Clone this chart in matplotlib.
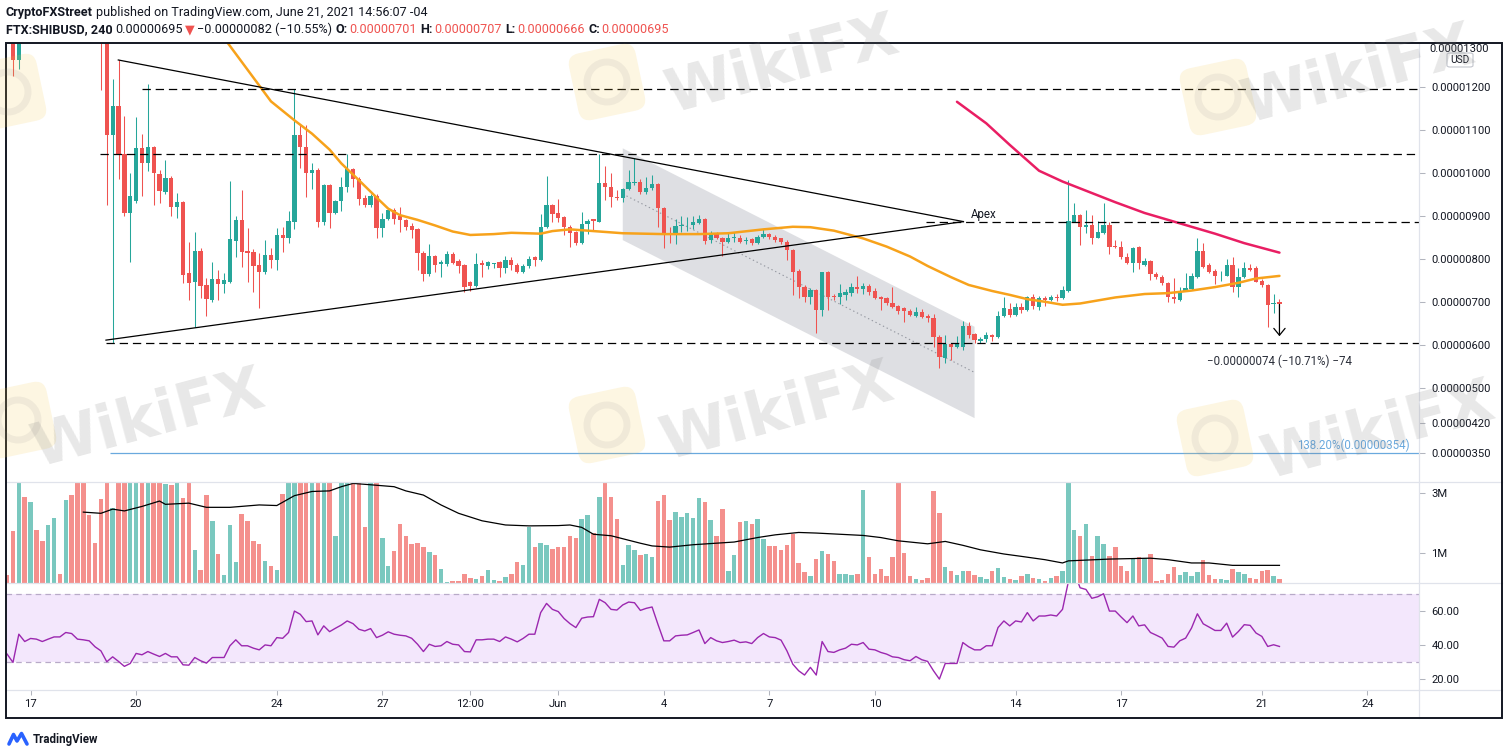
import matplotlib
matplotlib.use('Agg')
import matplotlib.pyplot as plt
import matplotlib.dates as mdates
import matplotlib.transforms as mtrans
from matplotlib.patches import Rectangle, Polygon, FancyBboxPatch, Circle
from matplotlib.lines import Line2D
import numpy as np
import pandas as pd

plt.rcParams['font.family'] = ['Roboto', 'DejaVu Sans']
plt.rcParams['lines.scale_dashes'] = False

# ---------------- DATA (prices in units of 1e-8 USD) ----------------
times = pd.date_range('2021-05-16 08:00', periods=218, freq='4h')

ohlc = [
    (1345,1365,1318,1330),(1330,1345,1225,1262),(1262,1340,1242,1320),(1320,1350,1306,1310),
    (1310,1380,1308,1370),(1370,1385,1340,1350),(1350,1360,1320,1330),(1330,1390,1325,1380),
    (1380,1430,1370,1420),(1420,1430,1405,1412),(1412,1470,1408,1460),(1460,1470,1400,1410),
    (1410,1415,1340,1350),(1350,1365,1320,1340),(1340,1350,1315,1325),(1325,1335,1306,1315),
    (1315,1320,1192,1305),(1305,1310,925,1088),(1088,1219,605,1155),(1155,1262,985,1041),
    (1045,1132,900,906),(906,1000,794,946),(935,1130,930,1057),(1057,1090,946,1024),
    (1024,1206,1005,1059),(1059,1062,925,999),(997,1007,929,959),(956,1030,950,989),
    (989,992,900,922),(922,953,895,932),(932,935,744,763),(767,840,705,745),
    (748,863,643,819),(819,826,710,738),(740,756,668,707),(705,794,700,754),
    (754,775,705,743),(743,767,721,751),(748,981,745,847),(843,900,806,891),
    (891,960,782,817),(819,872,748,815),(817,823,724,784),(786,814,686,771),
    (771,844,765,810),(810,825,779,798),(798,871,775,856),(856,875,817,848),
    (848,912,838,889),(887,1195,870,1088),(1088,1110,1011,1059),(1059,1110,943,999),
    (999,1022,962,1007),(1007,1011,874,885),(885,975,880,972),(972,975,871,908),
    (908,938,905,935),(935,990,912,968),(967,1045,956,1008),(1008,1012,967,985),
    (987,990,925,940),(941,949,921,925),(925,950,920,946),(946,950,848,871),
    (871,906,851,892),(892,918,890,915),(915,918,881,892),(900,920,864,891),
    (891,893,868,874),(877,883,848,868),(869,872,775,813),(815,818,750,765),
    (765,835,760,807),(807,810,771,786),(789,798,758,793),(789,819,784,812),
    (812,817,789,790),(795,800,767,784),(786,788,724,736),(748,750,726,738),
    (738,813,735,789),(790,798,758,786),(784,796,778,793),(789,792,780,791),
    (793,795,758,780),(780,808,768,797),(797,804,775,786),(786,790,768,771),
    (771,788,768,784),(783,808,780,800),(804,807,783,798),(797,905,795,874),
    (874,993,872,925),(925,928,885,905),(906,939,885,895),(897,900,856,874),
    (874,878,829,861),(864,866,833,838),(838,910,836,881),(881,892,858,889),
    (892,894,868,888),(887,1045,885,977),(977,1016,937,967),(967,999,922,943),
    (943,960,938,941),(941,965,932,962),(962,1007,960,980),(977,1034,972,980),
    (980,985,950,956),(956,990,950,964),(964,994,960,974),(974,976,874,918),
    (918,920,825,860),(861,874,837,858),(858,893,836,877),(877,900,863,879),
    (878,897,865,880),(879,900,870,885),(883,903,881,892),(892,895,835,843),
    (844,865,837,861),(861,864,846,848),(850,852,807,840),(840,864,838,850),
    (849,864,840,851),(850,857,837,840),(842,852,836,845),(846,850,833,838),
    (838,857,836,852),(851,869,849,858),(858,861,846,851),(852,856,840,844),
    (848,850,836,840),(840,845,798,821),(821,824,717,771),(773,776,709,735),
    (735,740,701,713),(713,732,696,728),(728,730,628,681),(681,771,668,769),
    (769,772,682,713),(715,720,705,711),(711,742,695,721),(717,730,705,724),
    (722,745,715,736),(735,761,721,730),(730,745,720,738),(738,743,717,724),
    (727,734,707,709),(713,715,682,707),(709,711,693,699),(699,735,686,690),
    (691,693,673,680),(686,688,655,680),(680,684,667,670),(668,690,666,678),
    (678,685,663,665),(668,672,655,663),(663,672,597,619),(620,624,547,572),
    (570,624,558,603),(603,606,567,597),(597,622,594,603),(597,657,590,645),
    (645,653,617,624),(627,629,606,613),(609,620,605,614),(614,630,607,624),
    (624,626,611,619),(620,680,617,668),(668,713,666,686),(684,697,666,670),
    (670,697,667,688),(688,697,674,682),(682,715,680,713),(711,720,684,691),
    (689,714,683,709),(709,715,692,705),(705,716,703,713),(713,720,702,709),
    (709,738,707,728),(727,984,724,889),(887,929,885,902),(902,905,833,874),
    (874,915,860,879),(879,902,835,850),(850,889,848,864),(861,929,858,879),
    (879,885,812,829),(830,844,826,828),(829,842,800,805),(805,815,788,792),
    (792,829,771,825),(827,830,776,792),(786,803,784,795),(795,798,752,766),
    (766,770,753,758),(758,762,740,744),(744,746,701,713),(713,756,699,707),
    (705,736,703,727),(727,767,725,732),(730,767,728,761),(759,848,757,819),
    (819,838,780,782),(786,792,768,771),(773,777,742,761),(762,773,750,764),
    (761,800,760,786),(786,806,724,736),(735,779,711,758),(758,793,755,779),
    (779,789,772,775),(779,784,746,748),(750,754,736,740),(740,742,643,694),
    (696,719,676,699),(701,707,688,695),
]
opens = [r[0] for r in ohlc]
highs = [r[1] for r in ohlc]
lows = [r[2] for r in ohlc]
closes = [r[3] for r in ohlc]

volumes_m = [
    0.28,1.74,3.5,2.89,2.72,1.78,1.41,1.94,2.19,0.31,
    2.76,2.94,3.6,3.6,2.28,1.34,2.81,4.5,2.5,4.0,
    3.8,3.9,3.7,3.6,3.8,3.6,3.5,3.30,3.27,3.6,
    2.83,3.6,1.11,0.44,2.94,2.08,0.98,0.28,1.94,0.70,
    2.30,2.06,1.41,1.30,0.74,0.56,0.44,2.98,3.6,4.0,
    3.7,3.6,3.5,3.8,3.6,3.5,1.56,3.5,3.6,3.5,
    3.5,1.86,3.5,3.6,1.52,0.56,1.06,1.98,1.58,1.30,
    1.33,1.19,1.02,0.94,0.48,0.03,0.06,0.06,0.30,0.17,
    0.14,0.22,0.44,0.11,0.08,0.19,0.30,0.70,0.61,1.86,
    1.19,1.33,1.28,1.14,1.19,1.22,1.56,1.50,2.14,2.28,
    1.67,2.89,3.6,2.89,2.14,0.61,1.28,1.11,0.94,0.98,
    0.86,2.74,2.94,2.11,2.37,2.20,2.33,2.19,2.83,2.72,
    2.11,1.58,2.48,0.41,0.94,2.03,2.08,1.98,2.14,1.48,
    1.24,1.24,1.11,1.28,1.63,0.67,0.37,0.22,0.81,1.06,
    0.98,0.74,0.31,0.31,0.26,0.31,3.11,0.86,0.31,0.47,
    0.24,0.86,3.6,1.00,0.24,0.14,0.11,0.17,3.06,2.33,
    0.52,0.41,0.26,0.39,0.41,0.26,0.19,0.14,0.39,0.50,
    0.19,0.13,0.11,0.22,0.31,0.17,0.14,0.08,0.17,0.22,
    0.39,3.6,1.78,1.56,1.97,0.89,1.56,1.30,0.89,1.19,
    0.56,0.39,0.83,0.86,0.83,0.97,0.08,0.10,0.29,0.53,
    0.27,0.38,0.23,0.38,0.76,0.27,0.15,0.15,0.11,0.48,
    0.36,0.31,0.17,0.14,0.39,0.44,0.24,0.14,
]

rsi = [
    34.9,30.0,46.6,42.3,44.1,43.7,42.3,43.7,45.0,45.0,
    47.6,47.0,43.7,43.3,42.7,39.2,36.8,30.4,33.3,30.6,
    27.7,29.4,35.3,34.5,36.4,34.9,33.5,35.3,33.3,33.3,
    28.6,28.4,32.9,31.0,29.6,32.9,32.9,32.9,39.8,43.3,
    39.8,39.8,38.4,37.4,40.3,39.8,44.6,44.2,47.6,60.2,
    58.3,54.0,54.4,46.2,51.5,48.1,50.1,52.0,54.4,52.8,
    49.5,48.5,49.9,44.6,46.0,48.0,46.6,46.0,45.6,44.2,
    40.7,36.4,40.7,39.4,39.8,42.3,40.7,40.3,36.4,36.2,
    43.3,43.3,43.7,43.7,42.3,45.0,43.7,42.1,44.1,46.6,
    46.6,59.3,64.7,61.2,59.9,55.8,52.8,50.5,56.0,56.7,
    56.9,67.1,65.1,61.2,60.8,63.8,65.5,65.1,60.6,61.8,
    62.6,52.4,42.7,42.7,45.6,46.0,46.2,47.6,49.1,41.1,
    44.6,42.7,41.7,42.3,43.1,41.7,42.1,41.1,44.6,47.0,
    45.0,44.6,43.1,36.8,29.0,25.1,22.6,27.1,22.6,42.3,
    36.4,35.9,37.4,38.4,40.7,40.3,41.7,37.8,37.4,35.9,
    34.9,33.3,32.9,31.6,31.0,33.5,31.6,30.6,25.1,20.2,
    29.4,29.4,29.4,41.7,39.2,37.4,37.4,39.8,39.8,50.5,
    54.4,51.5,54.4,53.8,59.3,54.4,57.3,57.3,57.9,57.3,
    61.2,77.5,83.0,73.9,72.9,67.7,68.6,70.4,60.2,60.2,
    56.7,53.4,57.3,51.5,52.1,47.6,46.0,44.3,39.4,39.0,
    42.7,44.3,50.2,58.6,52.7,50.8,48.8,48.8,53.1,44.9,
    48.2,52.2,51.8,47.3,45.3,39.4,40.4,39.4,
]

# moving averages, read at candle indices
sma_orange_idx = [36,37,45,49,52,55,57,60,63,65,67,70,73,76,79,83,86,91,93,96,
                  101,105,112,118,123,129,134,137,141,146,150,154,157,161,164,168,171,174,177,180,
                  183,189,194,198,202,206,210,213,217]
sma_orange_val = [1332,1313,1166,1122,1091,1054,1022,983,943,917,902,891,878,864,856,858,861,859,865,869,
                  864,860,858,858,860,869,875,874,866,848,829,806,784,758,740,726,717,707,701,694,
                  697,711,719,721,727,735,745,755,761]
sma_pink_idx = [162,167,171,176,180,183,189,194,200,206,211,217]
sma_pink_val = [1165,1115,1065,1005,980,964,932,907,883,859,837,815]
vol_ma_idx = [13,16,18,20,23,26,27,31,34,38,43,46,49,52,55,57,59,61,66,68,
              71,74,77,81,85,89,94,96,98,100,103,105,108,110,113,117,124,128,131,135,
              138,142,146,149,152,157,160,163,166,170,173,177,180,181,188,195,198,202,205,209,217]
vol_ma_val = [2.37,2.33,2.47,2.41,2.56,2.74,2.63,2.67,2.53,2.53,2.61,2.59,2.92,3.06,3.08,3.22,3.33,3.30,3.22,3.08,
              2.94,2.61,2.33,2.08,1.94,1.91,1.92,1.94,1.86,1.63,1.58,1.48,1.33,1.24,1.20,1.28,1.37,1.52,1.61,1.69,
              1.67,1.63,1.59,1.52,1.41,1.31,1.39,1.26,1.11,0.97,0.89,0.78,0.67,0.74,0.80,0.83,0.78,0.67,0.67,0.59,0.59]

# drawings (candle index, price)
tri_upper_start = (18.96, 1262)
tri_lower_start = (16.86, 612)
tri_apex = (163.1, 887)
dashed_levels = [1195, 1045, 885, 605]
dashed_starts = [22.95, 15.84, 156.8, 16.9]
channel_idx = (105, 165)
channel_top = (1057, 643)
channel_bot = (844, 431)
channel_mid = (951, 537)
fib_level = 350
fib_start = 17.5
fib_label = '138.20%(0.00000354)'
last_change = -74

price_ticks = [1200, 1100, 1000, 900, 800, 700, 600, 500, 420, 350]
vol_ticks = [1, 3]
vol_tick_labels = ['1M', '3M']
rsi_ticks = [20, 40, 60]
date_ticks = ['2021-05-17 00:00', '2021-05-20 00:00', '2021-05-24 00:00', '2021-05-27 00:00',
              '2021-05-29 12:00', '2021-06-01 00:00', '2021-06-04 00:00', '2021-06-07 00:00',
              '2021-06-10 00:00', '2021-06-14 00:00', '2021-06-17 00:00', '2021-06-21 00:00',
              '2021-06-24 00:00']
date_labels = ['17', '20', '24', '27', '12:00', 'Jun', '4', '7', '10', '14', '17', '21', '24']

assert len(ohlc) == 218 and len(volumes_m) == 218 and len(rsi) == 218

# ---------------- STYLE ----------------
W, H = 1508, 755
GREEN = '#26a69a'; RED = '#ef5350'
VGREEN = '#7ac8bf'; VRED = '#f4908d'
DARK = '#131722'
SEP = '#e0e3eb'
TICKC = '#b2b5be'
TFS = 8.1

fig = plt.figure(figsize=(W / 100, H / 100), dpi=100)
fig.patch.set_facecolor('white')

def fx(px): return px / W
def fy(py): return 1 - py / H

def add_ax(x0, y0, x1, y1):
    ax = fig.add_axes([fx(x0), fy(y1), (x1 - x0) / W, (y1 - y0) / H])
    ax.set_facecolor('none')
    for s in ax.spines.values():
        s.set_visible(False)
    return ax

ax_p = add_ax(6, 43, 1419, 482)
ax_v = add_ax(6, 482, 1419, 583)
ax_r = add_ax(6, 583, 1419, 690)

xs = mdates.date2num(times.to_pydatetime())
step = 1 / 6.0
def xj(j): return xs[0] + j * step
XL = (xj(-0.19), xj(240.8))
for ax in (ax_p, ax_v, ax_r):
    ax.set_xlim(*XL)

# ---- price pane ----
ax_p.set_ylim(282.8, 1301.4)
o = np.array(opens, float); h = np.array(highs, float)
l = np.array(lows, float); c = np.array(closes, float)
up = c >= o
col = np.where(up, GREEN, RED)

cj0, cj1 = channel_idx
ax_p.add_patch(Polygon([(xj(cj0), channel_top[0]), (xj(cj1), channel_top[1]),
                        (xj(cj1), channel_bot[1]), (xj(cj0), channel_bot[0])],
                       closed=True, facecolor='#d9dade', edgecolor='none', alpha=0.85, zorder=1))
ax_p.plot([xj(cj0), xj(cj1)], [channel_mid[0], channel_mid[1]], color='#9598a1',
          lw=0.8, ls=(0, (1, 2)), zorder=2)

ax_p.vlines(xs, l, h, colors=col, linewidth=0.75, zorder=4)
ax_p.bar(xs, np.maximum(np.abs(c - o), 2.0), bottom=np.minimum(o, c), width=0.73 * step,
         color=col, linewidth=0, zorder=5)

ax_p.plot(xs[sma_orange_idx], sma_orange_val, color='#f7a21b', lw=1.8, zorder=6,
          solid_capstyle='round')
ax_p.plot(xs[sma_pink_idx], sma_pink_val, color='#e91e63', lw=1.8, zorder=6,
          solid_capstyle='round')

ax_p.plot([xj(tri_upper_start[0]), xj(tri_apex[0])], [tri_upper_start[1], tri_apex[1]],
          color='black', lw=0.9, zorder=7)
ax_p.plot([xj(tri_lower_start[0]), xj(tri_apex[0])], [tri_lower_start[1], tri_apex[1]],
          color='black', lw=0.9, zorder=7)
ax_p.annotate('Apex', xy=(xj(tri_apex[0]), tri_apex[1]), xytext=(7, 7), textcoords='offset pixels',
              ha='left', va='center', fontsize=8.3, color=DARK, zorder=8)

for lev, st in zip(dashed_levels, dashed_starts):
    ax_p.hlines(lev, xj(st), XL[1], colors='black', linestyles=(0, (6, 3.5)), lw=0.9, zorder=7)

ax_p.hlines(fib_level, xj(fib_start), XL[1], colors='#6aa9de', lw=0.9, zorder=7)
ax_p.annotate(fib_label, xy=(1.0, fib_level), xycoords=('axes fraction', 'data'),
              xytext=(-9, 8), textcoords='offset pixels', ha='right', va='center',
              fontsize=8.3, color='#6aa9de', zorder=8)

xlast = xs[-1]
ax_p.annotate('', xy=(xlast, closes[-1] + last_change), xytext=(xlast, closes[-1]),
              arrowprops=dict(arrowstyle='->,head_length=0.55,head_width=0.45', color='black',
                              lw=0.9, mutation_scale=9, shrinkA=0, shrinkB=0), zorder=8)
ax_p.annotate('\u22120.00000074 (\u221210.71%) \u221274', xy=(xlast, closes[-1] + last_change),
              xytext=(0, -25), textcoords='offset pixels', ha='center', va='center',
              fontsize=8.3, color='#2a2e39', zorder=8)

ax_p.yaxis.tick_right()
ax_p.set_yticks(price_ticks)
ax_p.set_yticklabels([f'{v / 1e8:.8f}' for v in price_ticks])
ax_p.tick_params(axis='x', bottom=False, labelbottom=False)

# ---- volume pane ----
ax_v.set_ylim(0, 3.377)
ax_v.bar(xs, volumes_m, width=0.76 * step, color=np.where(up, VGREEN, VRED), linewidth=0, zorder=2)
ax_v.plot(xs[vol_ma_idx], vol_ma_val, color='black', lw=0.9, zorder=3)
ax_v.yaxis.tick_right()
ax_v.set_yticks(vol_ticks)
ax_v.set_yticklabels(vol_tick_labels)
ax_v.tick_params(axis='x', bottom=False, labelbottom=False)

# ---- RSI pane ----
ax_r.set_ylim(13.8, 76.7)
ax_r.axhspan(30, 70, color='#f3e7fc', zorder=0, lw=0)
for lv in (30, 70):
    ax_r.axhline(lv, color='#b8aac8', lw=0.9, ls=(0, (4, 3)), zorder=1)
ax_r.plot(xs, rsi, color='#9b27af', lw=1.0, zorder=3)
ax_r.yaxis.tick_right()
ax_r.set_yticks(rsi_ticks)
ax_r.set_yticklabels([f'{v:.2f}' for v in rsi_ticks])
ax_r.set_xticks(mdates.date2num(pd.to_datetime(date_ticks, format='%Y-%m-%d %H:%M').to_pydatetime()))
ax_r.set_xticklabels(date_labels)
ax_r.tick_params(axis='x', direction='out', length=3.5, width=0.75, color=TICKC,
                 labelsize=TFS, labelcolor=DARK, pad=3)

for ax in (ax_p, ax_v, ax_r):
    ax.tick_params(axis='y', direction='out', length=4.5, width=0.75, color=TICKC,
                   labelsize=TFS, labelcolor=DARK, pad=4.5)

fig.text(fx(1429), fy(49), '0.00001300', fontsize=TFS, color=DARK, ha='left', va='center', zorder=22)
fig.add_artist(FancyBboxPatch((fx(1447), fy(67)), 26 / W, 14 / H,
                              boxstyle='round,pad=0,rounding_size=0.002', transform=fig.transFigure,
                              facecolor='white', edgecolor='#c3c6ce', lw=0.8, zorder=23))
fig.text(fx(1460), fy(60), 'USD', fontsize=7.3, color=DARK, ha='center', va='center', zorder=24)

def fig_line(x0, y0, x1, y1, color, lw, z=20):
    fig.add_artist(Line2D([fx(x0), fx(x1)], [fy(y0), fy(y1)], transform=fig.transFigure,
                          color=color, lw=lw, zorder=z))
for yy in (482, 583, 690):
    fig_line(6, yy, 1502, yy, SEP, 0.9)
fig_line(1419, 43, 1419, 718, SEP, 0.9)
fig.add_artist(Rectangle((fx(6), fy(718)), (1502 - 6) / W, (718 - 43) / H, transform=fig.transFigure,
                         fill=False, edgecolor=DARK, lw=1.4, zorder=21))

renderer = fig.canvas.get_renderer()
HFS = 9.1
def seq_text(x, y, pieces):
    for s, color, weight, gap in pieces:
        t = fig.text(fx(x), fy(y), s, color=color, fontweight=weight, fontsize=HFS,
                     ha='left', va='center', zorder=25)
        x += t.get_window_extent(renderer).width + gap
    return x

SP = 3.2
seq_text(5.5, 12.5, [('CryptoFXStreet', DARK, 'bold', SP),
                     ('published on TradingView.com, June 21, 2021 14:56:07 -04', DARK, 'normal', 0)])
seq_text(5.5, 29.5, [('FTX:SHIBUSD, 240', DARK, 'bold', SP),
                     ('0.00000695', DARK, 'normal', 2),
                     ('\u25BC', RED, 'normal', 2),
                     ('\u22120.00000082 (\u221210.55%)', DARK, 'normal', SP + 1),
                     ('O:', DARK, 'bold', 1), ('0.00000701', RED, 'normal', SP + 1),
                     ('H:', DARK, 'bold', 1), ('0.00000707', RED, 'normal', SP + 1),
                     ('L:', DARK, 'bold', 1), ('0.00000666', RED, 'normal', SP + 1),
                     ('C:', DARK, 'bold', 1), ('0.00000695', RED, 'normal', 0)])

# footer logo (blue wave) + name
fig.add_artist(Line2D([fx(9), fx(13.5), fx(17), fx(21.5), fx(27)],
                      [fy(744), fy(734.5), fy(741), fy(733.5), fy(744)],
                      transform=fig.transFigure, color='#2962ff', lw=2.6,
                      solid_joinstyle='round', solid_capstyle='round', zorder=25))
fig.text(fx(33), fy(739), 'TradingView', fontsize=8.3, fontweight='bold', color=DARK,
         ha='left', va='center', zorder=25)

# watermark
for (cx, cy) in [(8, 92), (607, 82), (1218, 97), (18, 420), (607, 425), (1215, 438)]:
    tr = mtrans.Affine2D().rotate_deg_around(cx, H - cy, 12)
    fig.add_artist(FancyBboxPatch((cx - 34, H - cy - 34), 68, 68,
                                  boxstyle='round,pad=0,rounding_size=12', transform=tr,
                                  facecolor='#f5c84c', edgecolor='none', alpha=0.16, zorder=30))
    fig.add_artist(Circle((cx, H - cy), 20, transform=tr, facecolor='none',
                          edgecolor='#808080', lw=5, alpha=0.10, zorder=30))
for (cx, cy) in [(782, 66), (1358, 76), (148, 420), (777, 413), (1378, 432)]:
    fig.text(fx(cx), fy(cy), 'WikiFX', fontsize=44, fontweight='bold', color='#808080',
             alpha=0.18, rotation=15, ha='center', va='center', zorder=30,
             family=['DejaVu Sans'])

fig.savefig('out.png', dpi=100, facecolor='white')
